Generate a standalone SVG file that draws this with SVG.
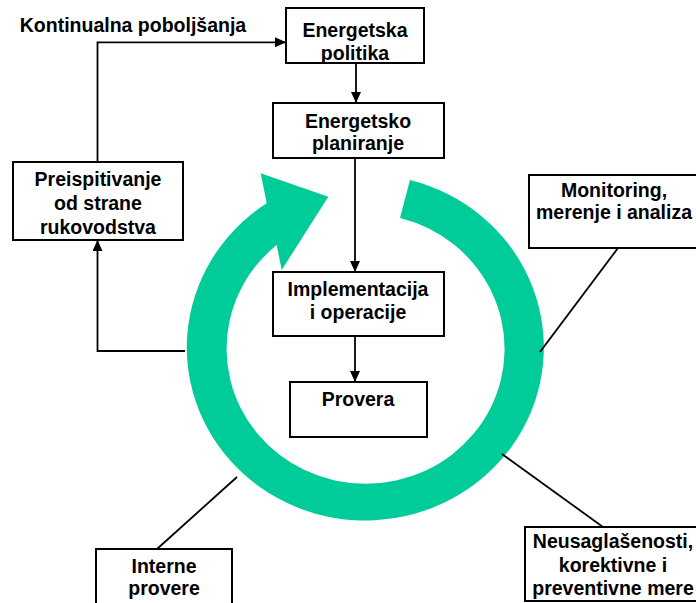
<svg xmlns="http://www.w3.org/2000/svg" width="696" height="603" viewBox="0 0 696 603">
  <style>
    .box { fill: #ffffff; stroke: #000000; stroke-width: 2; }
    .lbl { font-family: "Liberation Sans", Arial, sans-serif; font-weight: bold; font-size: 19.5px; fill: #000000; text-anchor: middle; }
    .conn { fill: none; stroke: #000000; stroke-width: 1.8; }
    .ring { fill: #00cc99; stroke: none; }
  </style>
  <defs>
    <marker id="arrow" markerUnits="userSpaceOnUse" markerWidth="11" markerHeight="10" refX="11" refY="5" orient="auto">
      <path d="M0,0 L11,5 L0,10 Z" fill="#000000"/>
    </marker>
  </defs>

  <rect width="696" height="603" fill="#ffffff"/>

  <!-- Improvement cycle: open ring ending in an arrowhead -->
  <g id="cycle-ring">
    <path class="ring" d="M410,180 A178.5,173 0 1 1 266.7,203.3 L260.7,173.3 L328.3,196.7 L281.7,270 L276.7,245 A139,135 0 1 0 400,218 Z"/>
  </g>

  <g id="connectors">
    <path class="conn" d="M97.5,162 V42.3 H286" marker-end="url(#arrow)"/>
    <path class="conn" d="M356,63 V103" marker-end="url(#arrow)"/>
    <path class="conn" d="M355,158 V272" marker-end="url(#arrow)"/>
    <path class="conn" d="M355,336 V382" marker-end="url(#arrow)"/>
    <path class="conn" d="M185,351 H97.5 V240" marker-end="url(#arrow)"/>
    <path class="conn" d="M618,248 L540,352"/>
    <path class="conn" d="M502,454 L603,527"/>
    <path class="conn" d="M237,477 L157,549"/>
  </g>

  <g id="label-kontinualna">
    <text class="lbl" x="133" y="32">Kontinualna poboljšanja</text>
  </g>

  <g id="node-politika">
    <rect class="box" x="286" y="8" width="138" height="55"/>
    <text class="lbl" x="355" y="37">Energetska</text>
    <text class="lbl" x="355" y="60">politika</text>
  </g>

  <g id="node-planiranje">
    <rect class="box" x="273" y="103" width="171" height="55"/>
    <text class="lbl" x="358" y="128">Energetsko</text>
    <text class="lbl" x="358" y="150">planiranje</text>
  </g>

  <g id="node-preispitivanje">
    <rect class="box" x="13" y="162" width="170" height="78"/>
    <text class="lbl" x="98" y="186">Preispitivanje</text>
    <text class="lbl" x="98" y="210">od strane</text>
    <text class="lbl" x="98" y="234">rukovodstva</text>
  </g>

  <g id="node-implementacija">
    <rect class="box" x="273" y="272" width="171" height="64"/>
    <text class="lbl" x="358" y="296">Implementacija</text>
    <text class="lbl" x="358" y="319">i operacije</text>
  </g>

  <g id="node-provera">
    <rect class="box" x="290" y="382" width="137" height="55"/>
    <text class="lbl" x="358" y="406">Provera</text>
  </g>

  <g id="node-monitoring">
    <rect class="box" x="529" y="175" width="172" height="73"/>
    <text class="lbl" x="614" y="197">Monitoring,</text>
    <text class="lbl" x="614" y="219">merenje i analiza</text>
  </g>

  <g id="node-neusaglasenosti">
    <rect class="box" x="525" y="527" width="176" height="74"/>
    <text class="lbl" x="613" y="548">Neusaglašenosti,</text>
    <text class="lbl" x="613" y="572">korektivne i</text>
    <text class="lbl" x="613" y="595">preventivne mere</text>
  </g>

  <g id="node-interne">
    <rect class="box" x="96" y="549" width="136" height="60"/>
    <text class="lbl" x="164" y="573">Interne</text>
    <text class="lbl" x="164" y="595">provere</text>
  </g>
</svg>
